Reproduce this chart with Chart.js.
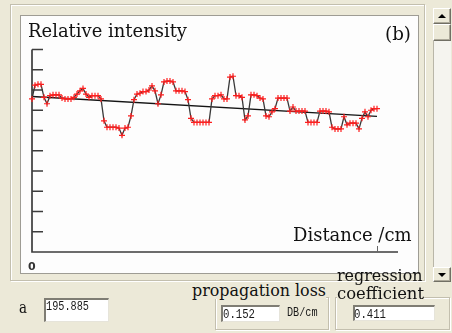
<!DOCTYPE html>
<html><head><meta charset="utf-8">
<script src="https://cdn.jsdelivr.net/npm/chart.js@4/dist/chart.umd.min.js"></script>
<style>
html,body{margin:0;padding:0;}
body{width:452px;height:333px;background:#ece9d8;position:relative;overflow:hidden;}
.abs{position:absolute;box-sizing:border-box;}
.t{position:absolute;white-space:nowrap;line-height:1;transform-origin:0 0;color:#111;}
.serif{font-family:"DejaVu Serif",serif;}
.mono{font-family:"Liberation Mono",monospace;color:#1a1a1a;}
.etch{border:1px solid #c3bfae;box-shadow:inset 1px 1px 0 #fff,1px 1px 0 #fff;}
.edit{background:#fff;border-style:solid;border-width:2px 1px 1px 2px;border-color:#7f7d74 #e6e4da #e6e4da #7f7d74;}
.btn{background:#ece9d8;border:1px solid;border-color:#fff #716f64 #716f64 #fff;box-shadow:inset -1px -1px 0 #aca899;}
.arr{position:absolute;left:4px;width:0;height:0;border-left:4px solid transparent;border-right:4px solid transparent;}
</style></head>
<body>
<div class="abs etch" style="left:10px;top:4px;width:415px;height:277px;"></div>
<div class="abs" style="left:20px;top:15px;width:399px;height:259px;border:1px solid #9e9c94;background:#fdfdfd;"></div>
<canvas id="c" width="397" height="257" style="position:absolute;left:21px;top:16px;"></canvas>

<div class="t serif" id="ylab" style="font-size:19px;">Relative intensity</div>
<div class="t serif" id="panel" style="font-size:19px;">(b)</div>
<div class="t serif" id="xlab" style="font-size:18px;">Distance /cm</div>
<div class="t" id="zero" style="font-family:'DejaVu Sans',sans-serif;font-weight:bold;font-size:11px;color:#333;">0</div>

<!-- scrollbar -->
<div class="abs" style="left:433px;top:8px;width:18px;height:274px;background:#f5f4ef;border-left:1px solid #b9b6a8;"></div>
<div class="abs btn" style="left:433px;top:8px;width:18px;height:16px;"><div class="arr" style="top:5px;border-bottom:4px solid #000;"></div></div>
<div class="abs btn" style="left:433px;top:24px;width:18px;height:17px;"></div>
<div class="abs btn" style="left:433px;top:267px;width:18px;height:15px;"><div class="arr" style="top:5px;border-top:4px solid #000;"></div></div>

<!-- bottom controls -->
<div class="t serif" id="alab" style="font-size:16px;">a</div>
<div class="abs edit" style="left:44px;top:298px;width:65px;height:24px;"></div>
<div class="t mono" id="aval" style="font-size:12px;">195.885</div>

<div class="abs etch" style="left:215px;top:297px;width:114px;height:33px;"></div>
<div class="t serif" id="plab" style="font-size:16px;background:#ece9d8;">propagation loss</div>
<div class="abs edit" style="left:221px;top:305px;width:59px;height:17px;"></div>
<div class="t mono" id="pval" style="font-size:12px;">0.152</div>
<div class="t mono" id="punit" style="font-size:12px;">DB/cm</div>

<div class="abs etch" style="left:335px;top:297px;width:115px;height:33px;"></div>
<div class="t serif" id="rlab1" style="font-size:16px;">regression</div>
<div class="t serif" id="rlab2" style="font-size:16px;background:#ece9d8;">coefficient</div>
<div class="abs edit" style="left:353px;top:305px;width:82px;height:16px;"></div>
<div class="t mono" id="rval" style="font-size:12px;">0.411</div>

<script>
// ---- data ----
const sampleStep = 0.1;            // cm between samples
const intensity = [
 189,206,207,207,191,183,193,194,194,194,190,189,189,189,191,195,199,202,195,191,
 193,193,193,189,162,154,154,154,154,153,144,153,154,168,188,195,196,198,198,200,
 205,199,183,194,210,211,211,210,199,199,199,198,188,165,160,160,160,160,160,160,
 189,193,193,194,189,189,216,217,193,193,191,163,168,194,194,193,190,189,168,167,
 173,177,190,190,190,190,174,179,174,174,174,174,160,160,160,160,174,174,174,173,
 154,152,152,152,167,157,159,159,159,152,165,173,167,175,177,177
];
const regressionX = [0, 11.5];
const regressionY = [192, 167.5];
const yTickValues = [25,50,75,100,125,150,175,200,225,250];
const xTickValues = [11.5];
const xMin = 0, xMax = 12.2, yMin = 0, yMax = 250;

const axesPlugin = {
  id: 'axesLines',
  beforeDatasetsDraw(chart) {
    const {ctx, scales:{x, y}} = chart;
    const x0 = x.getPixelForValue(xMin), y0 = y.getPixelForValue(yMin);
    ctx.save();
    ctx.strokeStyle = '#3d3d3d';
    ctx.lineWidth = 1.7;
    ctx.beginPath();
    ctx.moveTo(x0, y.getPixelForValue(yMax));
    ctx.lineTo(x0, y0);
    ctx.lineTo(x.getPixelForValue(xMax), y0);
    yTickValues.forEach(v => { const py = y.getPixelForValue(v); ctx.moveTo(x0, py); ctx.lineTo(x0 + 11, py); });
    ctx.stroke();
    ctx.lineWidth = 1;
    ctx.strokeStyle = '#666';
    ctx.beginPath();
    xTickValues.forEach(v => { const px = Math.round(x.getPixelForValue(v)) + 0.5; ctx.moveTo(px, y0); ctx.lineTo(px, y0 - 6); });
    ctx.stroke();
    ctx.restore();
  }
};

new Chart(document.getElementById('c'), {
  type: 'line',
  data: { datasets: [
    { data: intensity.map((v, i) => ({x: i * sampleStep, y: v})),
      borderColor: '#383838', borderWidth: 1.3, tension: 0, fill: false, clip: false,
      pointStyle: 'cross', pointRadius: 3, pointBorderColor: '#ff1e1e', pointBackgroundColor: '#ff1e1e', pointBorderWidth: 1.2 },
    { data: regressionX.map((xv, i) => ({x: xv, y: regressionY[i]})),
      borderColor: '#141414', borderWidth: 1.3, pointRadius: 0, fill: false, clip: false }
  ]},
  options: {
    responsive: false, animation: false, devicePixelRatio: 1,
    layout: { padding: { left: 11, top: 33.5, right: 20, bottom: 21 } },
    plugins: { legend: { display: false }, tooltip: { enabled: false } },
    scales: {
      x: { type: 'linear', min: xMin, max: xMax, display: false },
      y: { type: 'linear', min: yMin, max: yMax, display: false }
    }
  },
  plugins: [axesPlugin]
});

// ---- text placement (left, baseline, ink width) ----
const K = { serif: 0.846, mono: 0.767, sans: 0.846 };
function place(id, left, baseline, width, k) {
  const el = document.getElementById(id);
  const fs = parseFloat(el.style.fontSize);
  el.style.left = left + 'px';
  el.style.top = (baseline - k * fs) + 'px';
  const w = el.getBoundingClientRect().width;
  if (width) el.style.transform = 'scaleX(' + (width / w) + ')';
}
place('ylab', 28, 36.7, 159, K.serif);
place('panel', 385, 40.5, 26, K.serif);
place('xlab', 292.5, 241, 118.5, K.serif);
place('zero', 28, 270, 0, K.sans);
place('alab', 19, 313.3, 8, K.serif);
place('aval', 45.5, 310.5, 43, K.mono);
place('plab', 191.5, 296.7, 134, K.serif);
place('pval', 223, 318.3, 32, K.mono);
place('punit', 287, 316.7, 30.5, K.mono);
place('rlab1', 336.5, 281.7, 85.5, K.serif);
place('rlab2', 336.5, 300, 87, K.serif);
place('rval', 354, 318.3, 32, K.mono);
</script>
</body></html>
